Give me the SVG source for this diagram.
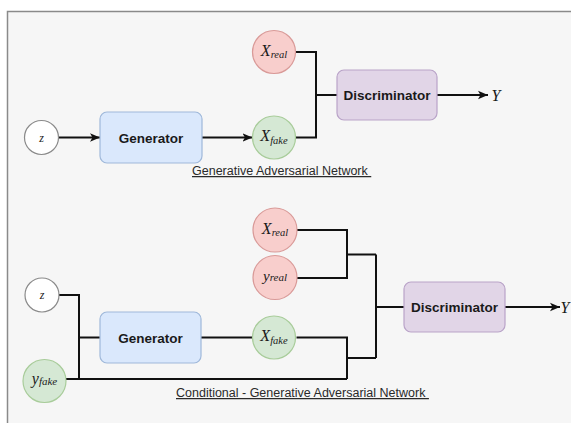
<svg xmlns="http://www.w3.org/2000/svg" width="571" height="423" viewBox="0 0 571 423">
<style>
.frame{fill:#f6f6f6;stroke:#8a8a8a;stroke-width:1.5}
.gen{fill:#dae8fc;stroke:#9fb8da;stroke-width:1.2}
.disc{fill:#e1d5e7;stroke:#b9a3c8;stroke-width:1.2}
.real{fill:#f8cecc;stroke:#d99a98;stroke-width:1.2}
.fake{fill:#d5e8d4;stroke:#a8cc9a;stroke-width:1.2}
.noise{fill:#ffffff;stroke:#8a8a8a;stroke-width:1.2}
.lbl{font-family:"Liberation Sans",Arial,sans-serif;font-weight:bold;font-size:13.5px;fill:#1a1a1a;text-anchor:middle}
.math{font-family:"Liberation Serif","Times New Roman",serif;font-style:italic;fill:#1a1a1a;text-anchor:middle}
.cap{font-family:"Liberation Sans",Arial,sans-serif;font-size:12.5px;fill:#2a2a2a;text-decoration:underline;white-space:pre}
.wire{fill:none;stroke:#111;stroke-width:2}
</style>
<defs>
<marker id="arr" markerUnits="userSpaceOnUse" markerWidth="10" markerHeight="10" refX="10" refY="5" orient="auto">
<path d="M0,0.8 L10,5 L0,9.2 L2.5,5 Z" fill="#111"/>
</marker>
</defs>
<rect class="frame" x="7.5" y="11.5" width="620" height="450"/>

<g id="connectors">
<line class="wire" x1="58.5" y1="137.5" x2="100" y2="137.5" marker-end="url(#arr)"/>
<line class="wire" x1="202" y1="137.5" x2="252.5" y2="137.5" marker-end="url(#arr)"/>
<polyline class="wire" points="295.5,52 316,52 316,137.5 295.5,137.5"/>
<line class="wire" x1="316" y1="95" x2="337" y2="95"/>
<line class="wire" x1="437" y1="95" x2="488" y2="95" marker-end="url(#arr)"/>
<polyline class="wire" points="59,295 79,295 79,379"/>
<line class="wire" x1="79" y1="337.5" x2="100" y2="337.5"/>
<line class="wire" x1="66" y1="379" x2="347" y2="379"/>
<line class="wire" x1="201" y1="337.5" x2="252.5" y2="337.5"/>
<polyline class="wire" points="296.5,337.5 347,337.5 347,379"/>
<polyline class="wire" points="297,230 347,230 347,278 297,278"/>
<line class="wire" x1="347" y1="254.5" x2="376" y2="254.5"/>
<line class="wire" x1="347" y1="358" x2="376" y2="358"/>
<line class="wire" x1="376" y1="254.5" x2="376" y2="358"/>
<line class="wire" x1="376" y1="307" x2="404" y2="307"/>
<line class="wire" x1="505" y1="307" x2="560" y2="307" marker-end="url(#arr)"/>
</g>

<g id="gan-z"><circle class="noise" cx="41.5" cy="137.5" r="17"/><text class="math" x="41.5" y="141.5" font-size="12">z</text></g>
<g id="gan-generator"><rect class="gen" x="100" y="112" width="102" height="51" rx="7"/><text class="lbl" x="151" y="142.5">Generator</text></g>
<g id="gan-xfake"><circle class="fake" cx="274" cy="137.5" r="21.5"/><text class="math" x="274" y="141" font-size="16">X<tspan font-size="10.5" dy="3">fake</tspan></text></g>
<g id="gan-xreal"><circle class="real" cx="274" cy="52" r="21.5"/><text class="math" x="274" y="56" font-size="16">X<tspan font-size="10.5" dy="2">real</tspan></text></g>
<g id="gan-discriminator"><rect class="disc" x="337" y="70" width="100" height="50" rx="7"/><text class="lbl" x="387" y="100">Discriminator</text></g>
<g id="gan-y"><text class="math" x="496" y="100.5" font-size="16">Y</text></g>
<g id="gan-caption"><text class="cap" x="192" y="175" xml:space="preserve">Generative Adversarial Network </text></g>

<g id="cgan-z"><circle class="noise" cx="42" cy="295" r="17"/><text class="math" x="42" y="299" font-size="12">z</text></g>
<g id="cgan-yfake"><circle class="fake" cx="44.5" cy="381" r="21.5"/><text class="math" x="44.5" y="384" font-size="16">y<tspan font-size="11" dy="1">fake</tspan></text></g>
<g id="cgan-generator"><rect class="gen" x="100" y="312" width="101" height="51" rx="7"/><text class="lbl" x="150.5" y="342.5">Generator</text></g>
<g id="cgan-xfake"><circle class="fake" cx="274" cy="337.5" r="21.5"/><text class="math" x="274" y="341" font-size="16">X<tspan font-size="10.5" dy="3">fake</tspan></text></g>
<g id="cgan-xreal"><circle class="real" cx="275" cy="230" r="22"/><text class="math" x="275" y="234" font-size="16">X<tspan font-size="10.5" dy="2">real</tspan></text></g>
<g id="cgan-yreal"><circle class="real" cx="275" cy="277.5" r="22"/><text class="math" x="275" y="281" font-size="15">y<tspan font-size="11" dy="0">real</tspan></text></g>
<g id="cgan-discriminator"><rect class="disc" x="404" y="282" width="101" height="50" rx="7"/><text class="lbl" x="454.5" y="312">Discriminator</text></g>
<g id="cgan-y"><text class="math" x="565" y="312.5" font-size="16">Y</text></g>
<g id="cgan-caption"><text class="cap" x="176" y="397" xml:space="preserve">Conditional - Generative Adversarial Network </text></g>
</svg>
